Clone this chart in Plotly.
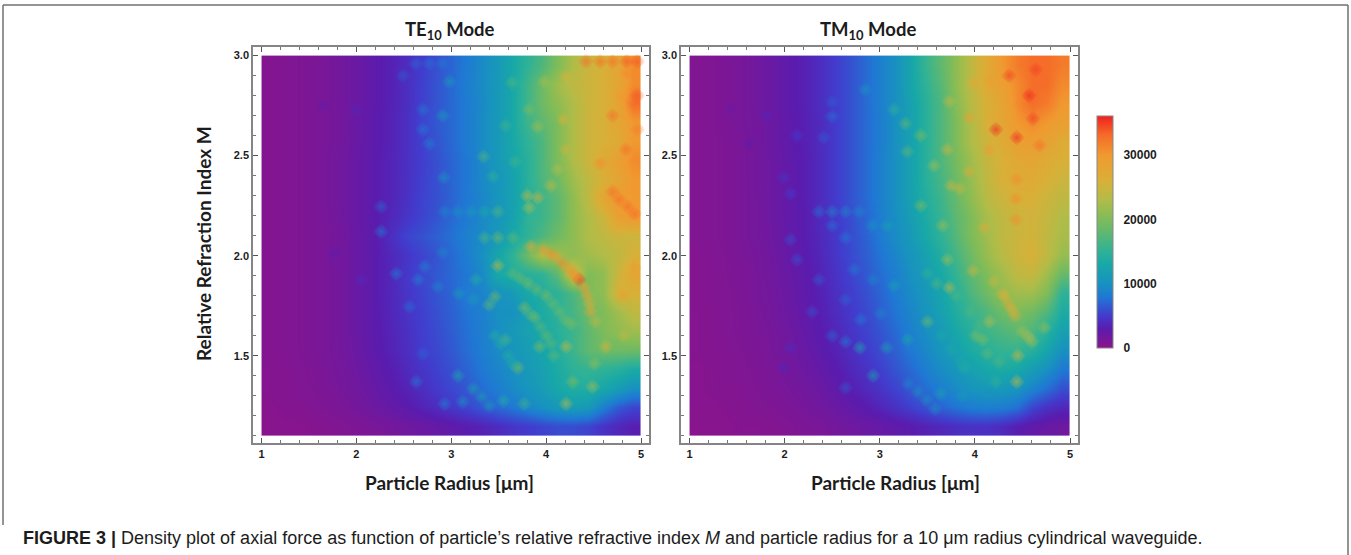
import re
import plotly.graph_objects as go
from plotly.colors import sample_colorscale

W, H = 1351, 555

# cell edges of the density grid
RADIUS_EDGES = [1.00, 1.16, 1.32, 1.48, 1.64, 1.80, 1.96, 2.12, 2.28, 2.44, 2.60, 2.76, 2.92,
                3.08, 3.24, 3.40, 3.56, 3.72, 3.88, 4.04, 4.20, 4.36, 4.52, 4.68, 4.84, 5.00]
INDEX_EDGES = [1.100, 1.195, 1.290, 1.385, 1.480, 1.575, 1.670, 1.765, 1.860, 1.955, 2.050,
               2.145, 2.240, 2.335, 2.430, 2.525, 2.620, 2.715, 2.810, 2.905, 3.000]

# axial force, thousands, rows from M = 3.0 down to M = 1.1
TE_FORCE = [
 [.5,.6,.8,1.0,1.3,1.7,2.2,2.8,3.4,4.1,5.0,6.0,7.0,8.2,9.5,11,13,15,17,20,23,25,26,28,31],
 [.5,.6,.8,1.0,1.3,1.7,2.2,2.8,3.4,4.2,5.2,6.2,7.2,8.4,9.6,11,13,16,19,22,24,25,26,28,31],
 [.5,.6,.8,1.0,1.3,1.7,2.2,2.8,3.4,4.2,5.2,6.2,7.2,8.2,9.4,11,13,16,19,21,23,25,26,28,33],
 [.5,.6,.8,1.0,1.3,1.7,2.3,2.9,3.5,4.3,5.4,6.4,7.2,8.2,9.6,11,13,16,18,20,23,25,26,28,30],
 [.5,.6,.8,1.0,1.3,1.7,2.3,2.9,3.5,4.3,5.2,6.2,7.2,8.2,9.6,11,13,15,17,20,23,25,26,27,30],
 [.5,.6,.8,1.0,1.4,1.8,2.4,3.0,3.6,4.3,5.1,6.0,7.0,8.0,9.4,11,12.5,14.5,17,20,23,25,27,29,31],
 [.5,.6,.8,1.0,1.4,1.8,2.4,3.0,3.6,4.3,5.2,6.0,7.0,8.0,9.4,10.5,12,14.5,17,19,22,24,26,28,30],
 [.5,.6,.8,1.0,1.4,1.8,2.4,3.0,3.6,4.4,5.3,6.0,7.0,8.0,9.2,10.5,12,14.5,16,18,21,24,28,30,30],
 [.5,.6,.8,1.0,1.3,1.8,2.4,3.0,3.8,4.6,5.4,6.2,7.2,8.2,9.4,10.5,12,15,16,18,21,23,25,29,30],
 [.5,.6,.8,1.0,1.3,1.7,2.3,3.0,4.2,5.4,6.0,6.8,7.6,8.6,9.6,11,13,15,17,19,21,23,24,25,25],
 [.5,.6,.8,1.0,1.3,1.7,2.3,3.0,3.8,4.6,5.4,6.2,7.2,8.4,10,12.5,15,19,23,22,21,22,23,24,26],
 [.5,.6,.8,1.0,1.3,1.7,2.3,3.0,3.8,4.8,5.6,6.4,7.2,8,9.4,13,14,14.5,15,18,26,20,21,25,28],
 [.5,.6,.8,1.0,1.3,1.7,2.3,3.0,3.8,4.6,5.4,6.2,7,8.2,9,10,11,13,14,15,17,20,21,26,26],
 [.5,.6,.8,1.0,1.3,1.7,2.3,3.0,3.7,4.5,5.2,6.0,6.8,7.8,8.6,10,10,12,13.5,15,16.5,19,20,22,24],
 [.5,.6,.8,1.0,1.3,1.7,2.3,2.9,3.6,4.3,5.1,5.8,6.6,7.6,8.6,9.6,11,12,13,14.5,16,18,20,21,22],
 [.5,.6,.8,1.0,1.3,1.6,2.2,2.8,3.5,4.2,5.0,5.6,6.4,7.4,8.4,9.5,10.5,11.5,12.5,14,16,18,19,19,19],
 [.4,.5,.7,.9,1.2,1.5,2.0,2.6,3.2,3.9,4.6,5.3,6.0,7.0,8.0,9,10,11,12,13.5,15,15.5,15,14.5,13.5],
 [.4,.5,.7,.8,1.1,1.4,1.8,2.3,2.9,3.5,4.2,4.9,5.6,6.4,7.4,8.4,9.4,10.5,11.5,13,14,14,13,11.5,10],
 [.3,.4,.5,.7,.9,1.1,1.5,1.9,2.4,2.9,3.5,4.1,4.8,5.5,6.4,7.2,8,9,10,11,11.5,11,8.5,6.5,5.5],
 [.2,.3,.3,.4,.5,.7,.9,1.1,1.4,1.7,2,2.3,2.7,3.1,3.5,4,4.6,5,5.4,5.8,5.8,5.4,4.5,3.8,3.2],
]
TM_FORCE = [
 [.6,.7,1.0,1.3,1.7,2.2,2.8,3.4,4.1,5.0,6.0,7.2,8.6,10,12.5,15.5,18,21,24,27,30,32,33,33,32],
 [.6,.7,1.0,1.3,1.7,2.2,2.8,3.4,4.1,5.0,6.0,7.2,8.6,10,12.5,15,17.5,21,24,27,29,31,33,33,31],
 [.6,.7,1.0,1.3,1.7,2.2,2.8,3.4,4.1,5.0,6.0,7.2,8.6,10,12,14.5,17,20.5,23.5,26,28,31,33,32,30],
 [.6,.7,1.0,1.3,1.6,2.1,2.7,3.3,4.0,4.9,6.0,7.2,8.4,10,12,14.5,17,20,23,26,28,30,31,30,29],
 [.6,.7,.9,1.2,1.6,2.1,2.7,3.3,4.0,4.9,6.0,7.2,8.4,10,12,14.5,17,20,23,25,27,29,29.5,28.5,27],
 [.6,.7,.9,1.2,1.6,2.0,2.6,3.2,4.0,4.9,6.0,7.2,8.6,10,12,14.5,17,19.5,22,24.5,26,27.5,28,27,26],
 [.6,.7,.9,1.2,1.6,2.0,2.6,3.2,4.0,4.9,6.0,7.2,8.6,10,12,14.5,16.5,19,21.5,24,26,27,27,26,25],
 [.6,.7,.9,1.2,1.5,2.0,2.6,3.2,4.0,4.9,6.0,7.2,8.6,10,12,14,16,18.5,21,23.5,25,26,26,25,24],
 [.6,.7,.9,1.2,1.5,2.0,2.5,3.1,3.9,4.8,5.8,7.0,8.4,9.8,11.5,13.5,15.5,18,20,22.5,24,25,25.5,24.5,23],
 [.6,.7,.9,1.2,1.5,1.9,2.5,3.1,3.8,4.7,5.7,6.8,8.2,9.6,11,13,15,17.5,20,22,24,25,25.5,24,22.5],
 [.5,.6,.8,1.1,1.4,1.8,2.4,3.0,3.7,4.6,5.6,6.6,7.8,9,10.5,12,14,16.5,19,21.5,23.5,25,26,24,21.5],
 [.5,.6,.8,1.0,1.3,1.7,2.2,2.8,3.5,4.4,5.3,6.3,7.4,8.5,10,11.5,13,15.5,18,20,22,24,24.5,22,18.5],
 [.5,.6,.7,1.0,1.3,1.6,2.1,2.7,3.4,4.2,5.0,5.9,7,8.2,9.5,10.8,12.5,14.5,17,19,21,22,22,20,15],
 [.4,.5,.7,.9,1.2,1.5,2.0,2.6,3.2,4.0,4.8,5.6,6.7,7.8,9,10.4,12,14,15.5,17,19,20,19,17,13.5],
 [.4,.5,.7,.9,1.1,1.4,1.8,2.4,3.0,3.7,4.5,5.3,6.2,7.3,8.6,9.8,11.2,13,14.5,16,17,18,17,14.5,12],
 [.4,.5,.6,.8,1.0,1.3,1.7,2.2,2.8,3.4,4.1,4.9,5.8,6.8,8,9.2,10.5,12,13.5,14.5,15.5,15.5,14.5,12.5,10],
 [.3,.4,.6,.7,.9,1.1,1.5,1.9,2.4,3.0,3.7,4.4,5.2,6.2,7.2,8.4,9.6,10.8,12,13,13.5,13,11.5,10,8],
 [.3,.4,.5,.6,.8,1.0,1.3,1.6,2.0,2.6,3.2,3.9,4.6,5.4,6.4,7.4,8.5,9.5,10.5,11,11,10.5,9,7.5,6],
 [.3,.3,.4,.5,.7,.8,1.0,1.3,1.6,2.0,2.5,3.0,3.7,4.4,5.2,6,7,7.8,8.4,8.6,8.4,7.6,5.5,4.4,3.8],
 [.2,.2,.3,.4,.4,.5,.7,.9,1.1,1.4,1.7,2,2.3,2.6,3,3.4,3.8,4.2,4.4,4.4,4,3.2,2.6,2.2,1.8],
]

# resonance spots
TE_SPOT_X = [4.42,4.57,4.70,4.85,4.96,4.85,4.77,4.96,4.70,4.96,4.84,4.57,4.70,4.77,4.86,4.93,4.21,3.98,3.82,3.91,
             4.18,4.21,4.12,4.05,3.91,3.80,3.82,3.64,3.57,3.34,3.44,3.67,3.49,3.35,3.21,3.07,2.93,2.26,2.26,2.63,
             2.77,2.91,2.49,2.98,2.70,2.91,2.70,2.77,2.92,2.00,1.65,3.35,3.49,3.65,3.84,4.05,4.17,4.28,4.35,4.43,
             4.46,3.49,3.65,3.81,4.00,4.14,3.26,3.46,3.40,3.77,3.88,4.00,4.26,4.52,4.82,4.21,4.63,3.93,3.70,4.28,
             4.49,4.21,3.77,4.51,3.57,3.07,2.63,3.12,3.55,3.23,3.32,3.40,2.93,2.42,2.72,2.91,2.65,2.86,3.08,3.23,
             2.56,2.05,1.77,2.70,4.93,4.81,
             3.73,3.90,4.07,4.20,3.83,3.94,4.05,4.08,3.46,3.52,3.60,3.65,3.97,4.11,4.23,4.32,4.40,4.47]
TE_SPOT_Y = [2.97,2.97,2.97,2.97,2.97,2.91,2.80,2.80,2.70,2.63,2.53,2.46,2.32,2.28,2.245,2.21,2.895,2.87,2.73,2.645,
             2.68,2.53,2.43,2.35,2.29,2.30,2.24,2.865,2.65,2.495,2.395,2.47,2.22,2.22,2.22,2.22,2.22,2.245,2.12,2.96,
             2.96,2.96,2.90,2.87,2.73,2.70,2.63,2.56,2.39,2.73,2.75,2.09,2.09,2.09,2.045,2.01,1.96,1.91,1.88,1.80,
             1.76,1.95,1.91,1.86,1.80,1.72,1.88,1.795,1.755,1.74,1.69,1.60,1.66,1.67,1.60,1.545,1.545,1.545,1.44,1.37,
             1.345,1.26,1.26,1.46,1.58,1.40,1.37,1.27,1.275,1.335,1.295,1.25,1.26,1.91,1.945,2.015,1.88,1.845,1.81,1.78,
             1.745,1.88,2.01,1.51,1.94,1.80,
             1.885,1.83,1.76,1.68,1.71,1.645,1.56,1.50,1.60,1.56,1.50,1.46,2.03,1.99,1.94,1.89,1.84,1.72]
TE_SPOT_V = [33,33,33,34,34,31,30,34,33,32,33,31,33,33,33,33,26,22,20,22,
             26,25,23,24,25,24,23,17,16,17,15,16,17,13,11,10,9,7,8,7,
             7.5,8,6.5,11,8,11,8,8.5,10.5,3.5,2.4,17,19,18,27,31,31,31,36,29,
             27,24,18,20,20,19,14,19,18,20,20,19,20,24,24,24,26,20,20,20,
             22,23,16,21,17,13,8,10,14,12,12,11,8.5,8,8.5,9,8.5,9,11,11,
             7.5,4,2.8,7,29,29,
             19,19,19,19,18,18,18,18,14,14,14,14,30,30,30,30,30,28]

TM_SPOT_X = [4.36,4.64,4.57,4.61,4.22,4.44,4.68,4.15,4.44,4.43,4.43,3.94,3.99,4.16,3.73,3.43,3.71,3.29,3.57,3.94,
             3.75,3.84,3.43,3.66,4.10,2.50,2.64,2.78,2.36,2.50,2.92,3.08,2.06,2.64,2.50,2.50,2.85,3.15,3.27,1.81,
             1.43,1.63,2.13,2.41,1.99,2.06,3.71,3.98,3.73,4.29,4.36,4.42,3.50,4.15,4.01,4.08,4.56,4.73,4.45,4.44,
             4.13,3.29,2.79,3.07,2.93,3.64,3.87,3.89,4.22,2.13,2.36,2.93,2.73,2.64,2.29,3.01,2.80,2.50,2.64,2.06,
             1.99,2.64,3.40,3.49,3.58,3.50,3.15,
             4.20,4.32,4.39,3.60,3.80,3.95,4.05,4.50,4.60,3.65,3.75,3.85,4.25,3.30]
TM_SPOT_Y = [2.90,2.93,2.80,2.685,2.63,2.59,2.55,2.53,2.38,2.285,2.18,2.69,2.865,2.87,2.77,2.60,2.53,2.52,2.45,2.42,
             2.35,2.335,2.25,2.15,2.14,2.22,2.22,2.22,2.22,2.15,2.15,2.15,2.08,2.09,2.695,2.77,2.83,2.73,2.66,2.70,
             2.73,2.56,2.60,2.59,2.39,2.31,1.98,1.925,1.84,1.81,1.755,1.70,1.67,1.67,1.60,1.58,1.595,1.64,1.50,1.37,
             1.51,1.58,1.54,1.54,1.40,1.31,1.30,1.44,1.37,1.98,1.88,1.88,1.93,1.78,1.72,1.71,1.68,1.60,1.57,1.54,
             1.44,1.34,1.32,1.28,1.235,1.91,1.85,
             1.87,1.79,1.73,1.86,1.80,1.72,1.65,1.62,1.57,1.60,1.53,1.47,1.47,1.36]
TM_SPOT_V = [35,35,36,35,36,36,33,30,31,31,31,29,28,29,24,20,25,18,22,27,
             25,25,20,22,27,9,9,9,7.5,7.5,10,12,6,8,7.5,6.5,10.5,15,18,3.5,
             2.2,2.8,5,6.5,4.5,5,22,25,24,27,28,27,19,23,20,20,24,21,25,24,
             18,13,13,12,12,12,11,14,15,6,6.5,9,8,7,6,9,8,7,8,4,
             3.5,6.5,10,10,9.5,15,12,
             25,26,26,17,17,17,17,22,22,13,13,13,17,9]

COLORBAR_TICKS = [0, 10000, 20000, 30000]
FORCE_MAX = 36100
COLORSCALE = [
    [0.000, "rgb(139,20,139)"], [0.085, "rgb(90,28,175)"], [0.14, "rgb(66,60,205)"],
    [0.22, "rgb(32,120,212)"], [0.28, "rgb(24,146,192)"], [0.36, "rgb(24,168,168)"],
    [0.42, "rgb(48,178,150)"], [0.50, "rgb(96,184,112)"], [0.56, "rgb(130,188,88)"],
    [0.64, "rgb(178,188,72)"], [0.72, "rgb(216,176,56)"], [0.83, "rgb(240,154,48)"],
    [0.92, "rgb(245,106,40)"], [1.000, "rgb(240,32,32)"],
]

TEXT = "#1c1c1c"
FRAME = "#858585"
TITLE_FONT = "Lato"
TICK_FONT = "Liberation Sans"


def spot_trace(xs, ys, vs, xaxis, yaxis):
    solid = sample_colorscale(COLORSCALE, [v * 1000 / FORCE_MAX for v in vs])
    faded = [re.sub(r"rgb\((.*)\)", r"rgba(\1,0)", c) for c in solid]
    return go.Scatter(
        x=xs, y=ys, mode="markers", xaxis=xaxis, yaxis=yaxis, hoverinfo="skip",
        showlegend=False,
        marker=dict(symbol="diamond", size=13, opacity=0.62, color=faded, line=dict(width=0),
                    gradient=dict(type="radial", color=solid)),
    )


def force_trace(rows, xaxis, yaxis):
    return go.Heatmap(
        x=RADIUS_EDGES, y=INDEX_EDGES, z=[[v * 1000 for v in r] for r in rows[::-1]],
        zsmooth="best", coloraxis="coloraxis", xaxis=xaxis, yaxis=yaxis,
    )


fig = go.Figure([
    force_trace(TE_FORCE, "x", "y"),
    spot_trace(TE_SPOT_X, TE_SPOT_Y, TE_SPOT_V, "x", "y"),
    force_trace(TM_FORCE, "x2", "y2"),
    spot_trace(TM_SPOT_X, TM_SPOT_Y, TM_SPOT_V, "x2", "y2"),
])


def x_axis(left, right, anchor):
    return dict(
        domain=[left / W, right / W], anchor=anchor, range=[0.91, 5.084], tickvals=[1, 2, 3, 4, 5],
        ticks="inside", ticklen=5, tickwidth=1, tickcolor="#555", mirror="ticks", showline=True,
        linecolor=FRAME, linewidth=1.5, showgrid=False, zeroline=False,
        minor=dict(dtick=0.2, ticks="inside", ticklen=3, tickcolor="#777", showgrid=False),
        tickfont=dict(family=TICK_FONT, size=11, color=TEXT, weight="bold"),
    )


def y_axis(anchor):
    return dict(
        domain=[1 - 443 / H, 1 - 47 / H], anchor=anchor, range=[1.0635, 3.043],
        tickvals=[1.5, 2.0, 2.5, 3.0], tickformat=".1f",
        ticks="inside", ticklen=5, tickwidth=1, tickcolor="#555", mirror="ticks", showline=True,
        linecolor=FRAME, linewidth=1.5, showgrid=False, zeroline=False,
        minor=dict(dtick=0.1, ticks="inside", ticklen=3, tickcolor="#777", showgrid=False),
        tickfont=dict(family=TICK_FONT, size=11, color=TEXT, weight="bold"),
    )


def label(text, x, y, size=19, angle=0, family=TITLE_FONT):
    return dict(text=text, x=x / W, y=1 - y / H, xref="paper", yref="paper", showarrow=False,
                xanchor="center", yanchor="middle", textangle=angle,
                font=dict(family=family, size=size, color=TEXT))


annotations = [
    label("<b>TE<sub>10</sub> Mode</b>", 450, 30, 18.5),
    label("<b>TM<sub>10</sub> Mode</b>", 868, 30, 18.5),
    label("<b>Particle Radius [μm]</b>", 449, 482),
    label("<b>Particle Radius [μm]</b>", 895, 482),
    label("<b>Relative Refraction Index M</b>", 204, 244, 19, -90),
    dict(text="<b>FIGURE 3 |</b> Density plot of axial force as function of particle’s relative refractive "
              "index <i>M</i> and particle radius for a 10 μm radius cylindrical waveguide.",
         x=21 / W, y=1 - 538 / H, xref="paper", yref="paper", showarrow=False, xanchor="left",
         yanchor="middle", font=dict(family="Liberation Sans", size=18, color=TEXT)),
]

border = [
    dict(type="line", xref="paper", yref="paper", x0=3 / W, x1=1348 / W, y0=1 - 5 / H, y1=1 - 5 / H,
         line=dict(color="#707070", width=1.5)),
    dict(type="line", xref="paper", yref="paper", x0=3 / W, x1=3 / W, y0=1 - 525 / H, y1=1 - 5 / H,
         line=dict(color="#707070", width=1.5)),
    dict(type="line", xref="paper", yref="paper", x0=1348 / W, x1=1348 / W, y0=0, y1=1 - 5 / H,
         line=dict(color="#707070", width=1.5)),
]

fig.update_layout(
    width=W, height=H, margin=dict(l=0, r=0, t=0, b=0), paper_bgcolor="white", plot_bgcolor="white",
    xaxis=x_axis(253, 649, "y"), yaxis=y_axis("x"),
    xaxis2=x_axis(681, 1078, "y2"), yaxis2=y_axis("x2"),
    annotations=annotations, shapes=border, showlegend=False,
    coloraxis=dict(
        cmin=0, cmax=FORCE_MAX, colorscale=COLORSCALE,
        colorbar=dict(
            lenmode="pixels", len=232, thicknessmode="pixels", thickness=16, x=1097 / W, xanchor="left",
            y=1 - 348 / H, yanchor="bottom", ypad=0, xpad=0, tickvals=COLORBAR_TICKS, ticks="outside",
            ticklen=8, tickcolor="rgba(0,0,0,0)", outlinecolor="#888", outlinewidth=1,
            tickfont=dict(family=TICK_FONT, size=12, color=TEXT, weight="bold"), tickformat="d",
        ),
    ),
)

fig.write_html("out.html", config=dict(displayModeBar=False),
               post_script="document.body.style.margin='0';")
